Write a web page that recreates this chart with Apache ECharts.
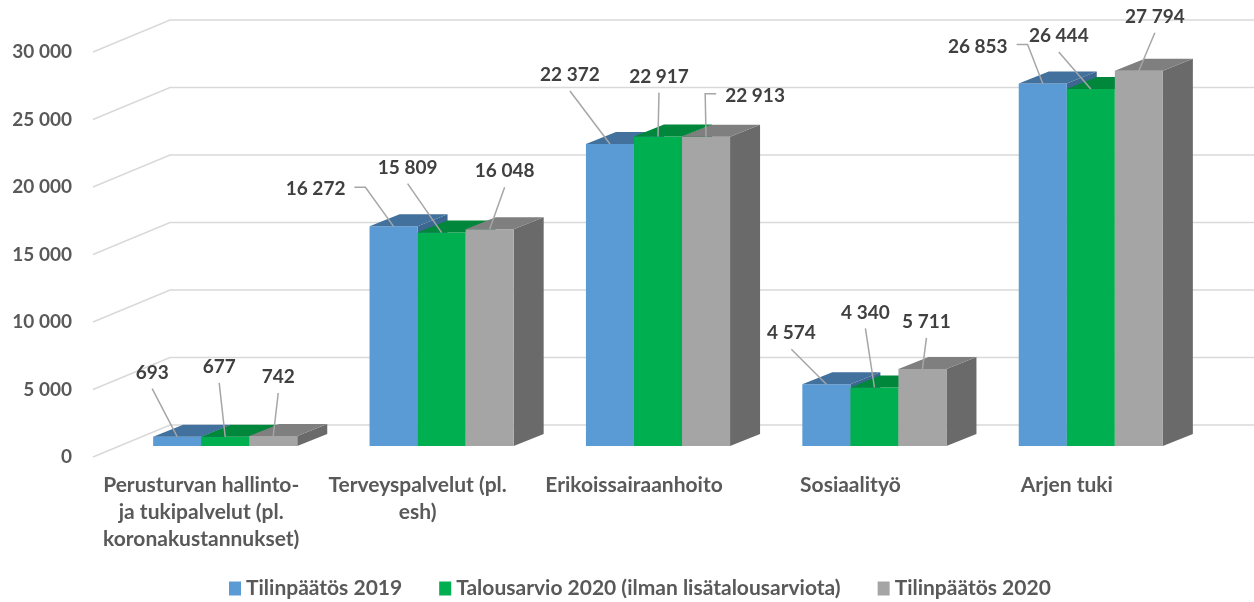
<!DOCTYPE html>
<html>
<head>
<meta charset="utf-8">
<script src="https://cdn.jsdelivr.net/npm/echarts@6/dist/echarts.min.js"></script>
<style>
    html, body { margin: 0; padding: 0; background: #fff; }
    #chart { width: 1254px; height: 602px; }
</style>
</head>
<body>
<div id="chart"></div>
<script>
// luokat ja arvot
var categories = [
    'Perusturvan hallinto-\nja tukipalvelut (pl.\nkoronakustannukset)',
    'Terveyspalvelut (pl.\nesh)',
    'Erikoissairaanhoito',
    'Sosiaalityö',
    'Arjen tuki'
];
var seriesNames = ['Tilinpäätös 2019', 'Talousarvio 2020 (ilman lisätalousarviota)', 'Tilinpäätös 2020'];
var tilinpaatos2019 = [693, 16272, 22372, 4574, 26853];
var talousarvio2020 = [677, 15809, 22917, 4340, 26444];
var tilinpaatos2020 = [742, 16048, 22913, 5711, 27794];
var yTicks = [0, 5000, 10000, 15000, 20000, 25000, 30000];

// värit: etupinta, kansi, kylki
var frontColors = ['#5b9bd5', '#00b050', '#a5a5a5'];
var topColors = ['#41719c', '#00873c', '#7f7f7f'];
var sideColors = ['#3b6790', '#007a35', '#6a6a6a'];

// arvotekstien siirto pylvään yläreunasta [dx, dy, viiva sivulta]
var labelLayout = [
    [[-25, -64, 0], [-78, -37, 1], [-40, -69, 0], [-35, -51, 0], [-65, -37, 1]],
    [[-6, -70, 0], [-34, -65, 0], [1, -60, 0], [-9, -75, 0], [-32, -53, 0]],
    [[5, -59, 0], [15, -58, 0], [49, -41, 1], [4, -47, 0], [16, -54, 0]]
];

var seriesValues = [tilinpaatos2019, talousarvio2020, tilinpaatos2020];

var BAR_SHIFT_X = 24, BAR_SHIFT_Y = -11;
var DEPTH_X = 30, DEPTH_Y = -12;
var WALL_X = 77, WALL_Y = -32;
var LABEL_FONT = 'bold 19px Lato';

function fmt(v) {
    return String(v).replace(/\B(?=(\d{3})+(?!\d))/g, ' ');
}

var measureCtx = document.createElement('canvas').getContext('2d');
function textWidth(t) {
    measureCtx.font = LABEL_FONT;
    return measureCtx.measureText(t).width;
}

function barBox(api, s, i, v) {
    var band = api.size([1, 0])[0];
    var w = band * 0.222;
    var top = api.coord([i, v]);
    var base = api.coord([i, 0]);
    var x0 = top[0] + BAR_SHIFT_X - 1.5 * w + s * w;
    return { x: x0, w: w, yTop: top[1] + BAR_SHIFT_Y, yBot: base[1] + BAR_SHIFT_Y };
}

function barRenderer(s) {
    return function (params, api) {
        var b = barBox(api, s, api.value(0), api.value(1));
        var r = b.x + b.w;
        return {
            type: 'group',
            children: [
                {
                    type: 'polygon',
                    shape: { points: [[r, b.yTop], [r + DEPTH_X, b.yTop + DEPTH_Y], [r + DEPTH_X, b.yBot + DEPTH_Y], [r, b.yBot]] },
                    style: { fill: sideColors[s] }
                },
                {
                    type: 'rect',
                    shape: { x: b.x, y: b.yTop, width: b.w, height: b.yBot - b.yTop },
                    style: { fill: frontColors[s] }
                },
                {
                    type: 'polygon',
                    shape: { points: [[b.x, b.yTop], [r, b.yTop], [r + DEPTH_X, b.yTop + DEPTH_Y], [b.x + DEPTH_X, b.yTop + DEPTH_Y]] },
                    style: { fill: topColors[s] }
                }
            ]
        };
    };
}

function gridRenderer(params, api) {
    var c = api.coord([0, api.value(1)]);
    var band = api.size([1, 0])[0];
    var left = c[0] - band / 2;
    var y = c[1];
    return {
        type: 'polyline',
        shape: { points: [[left, y], [left + WALL_X, y + WALL_Y], [api.getWidth(), y + WALL_Y]] },
        style: { stroke: '#d9d9d9', lineWidth: 1.5, fill: null }
    };
}

function labelRenderer(params, api) {
    var i = api.value(0), v = api.value(1), s = api.value(2);
    var b = barBox(api, s, i, v);
    var ax = b.x + b.w / 2, ay = b.yTop;
    var lay = labelLayout[s][i];
    var tx = ax + lay[0], ty = ay + lay[1];
    var text = fmt(v);
    var pts;
    if (lay[2]) {
        var hw = textWidth(text) / 2;
        var dir = lay[0] < 0 ? 1 : -1;
        var sx = tx + dir * (hw + 9);
        pts = [[sx, ty - 2], [sx + dir * 11, ty - 2], [ax, ay]];
    } else {
        pts = [[tx, ty + 16], [ax, ay]];
    }
    return {
        type: 'group',
        children: [
            { type: 'polyline', shape: { points: pts }, style: { stroke: '#a6a6a6', lineWidth: 1.5, fill: null } },
            {
                type: 'text',
                style: {
                    text: text, x: tx, y: ty, align: 'center', verticalAlign: 'middle',
                    font: LABEL_FONT, fill: '#404040'
                }
            }
        ]
    };
}

var chart = echarts.init(document.getElementById('chart'));

var series = [{
    type: 'custom',
    name: 'grid',
    silent: true,
    clip: false,
    z: 1,
    renderItem: gridRenderer,
    data: yTicks.map(function (t) { return [0, t]; })
}];

seriesValues.forEach(function (vals, s) {
    series.push({
        type: 'custom',
        name: seriesNames[s],
        clip: false,
        z: 2 + s,
        itemStyle: { color: frontColors[s] },
        renderItem: barRenderer(s),
        data: vals.map(function (v, i) { return [i, v]; })
    });
});

var labelData = [];
seriesValues.forEach(function (vals, s) {
    vals.forEach(function (v, i) { labelData.push([i, v, s]); });
});
series.push({
    type: 'custom',
    name: 'labels',
    silent: true,
    clip: false,
    z: 10,
    renderItem: labelRenderer,
    data: labelData
});

var option = {
    animation: false,
    backgroundColor: '#fff',
    grid: { left: 93, right: 79, top: 52, bottom: 145 },
    legend: {
        data: seriesNames,
        left: 224,
        top: 573,
        icon: 'rect',
        itemWidth: 12,
        itemHeight: 14,
        itemGap: 37,
        textStyle: { fontFamily: 'Lato', fontWeight: 'bold', fontSize: 21, color: '#595959' }
    },
    xAxis: {
        type: 'category',
        data: categories,
        axisLine: { show: false },
        axisTick: { show: false },
        axisLabel: {
            interval: 0,
            margin: 15,
            fontFamily: 'Lato',
            fontWeight: 'bold',
            fontSize: 21,
            lineHeight: 27,
            color: '#595959'
        }
    },
    yAxis: {
        type: 'value',
        min: 0,
        max: 30000,
        interval: 5000,
        axisLine: { show: false },
        axisTick: { show: false },
        splitLine: { show: false },
        axisLabel: {
            margin: 21,
            fontFamily: 'Lato',
            fontWeight: 'bold',
            fontSize: 19,
            color: '#595959',
            formatter: fmt
        }
    },
    series: series
};

chart.setOption(option);
</script>
</body>
</html>
